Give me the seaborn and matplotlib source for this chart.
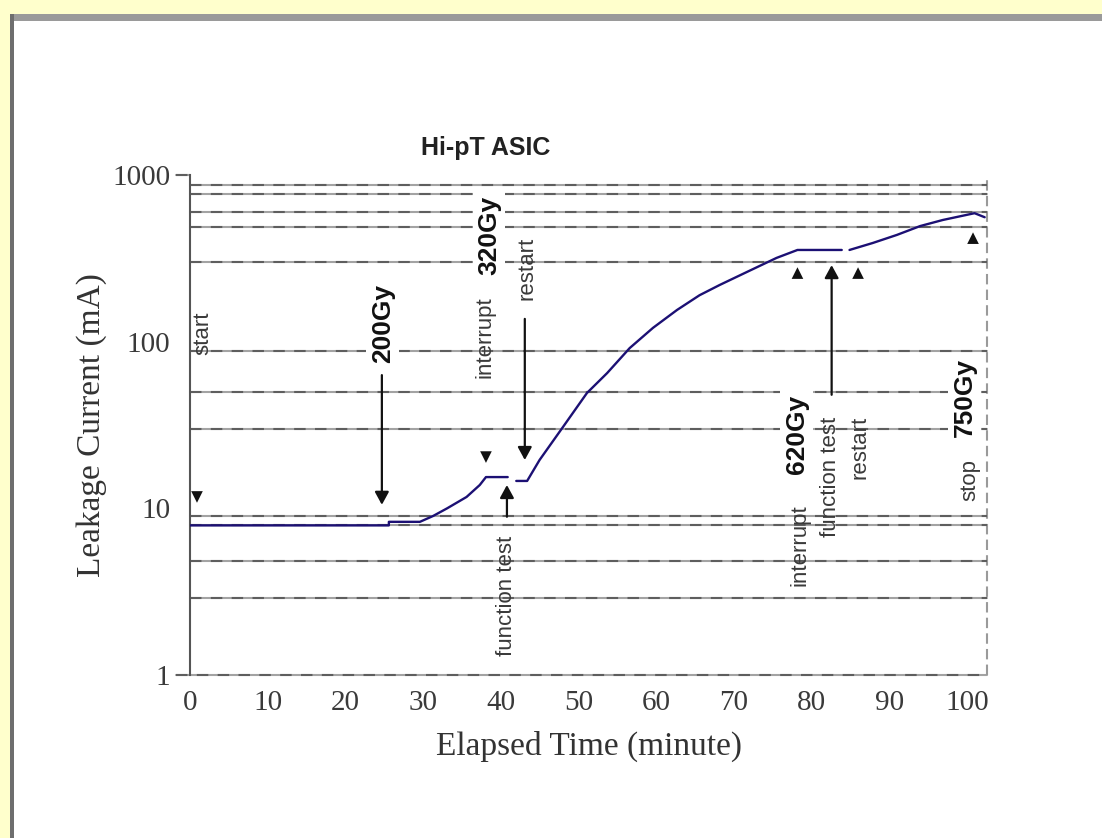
import numpy as np
import pandas as pd
import matplotlib
matplotlib.use("Agg")
import matplotlib.pyplot as plt
from matplotlib.patches import Rectangle
import seaborn as sns

# ---------------- data ----------------
time_min = [0, 25.6, 25.6, 29.6, 31.3, 33.1, 35.6, 37.3, 38.1, 40.9,
            42.0, 43.4, 45.0, 48.0, 51.1, 53.7, 56.6, 59.6, 62.7, 65.6,
            68.2, 71.7, 75.5, 78.2, 83.9,
            84.9, 87.9, 91.0, 94.0, 96.9, 101.0, 102.3]
current_mA = [7.9, 7.9, 8.3, 8.3, 9.0, 10.0, 11.7, 13.8, 15.4, 15.4,
              14.6, 14.6, 19.5, 30.7, 49.2, 64.8, 91.5, 121, 155, 190,
              219, 262, 318, 355, 355,
              355, 391, 437, 494, 537, 590, 558]
segment = [1] * 10 + [2] * 15 + [3] * 7

marker_time = [0.9, 38.1, 78.2, 86.0, 100.8]
marker_current = [11.7, 20.3, 258, 258, 418]
marker_shape = ["down", "down", "up", "up", "up"]

grid_levels = [870, 770, 600, 490, 300, 88, 50, 30, 9.0, 7.9, 4.8, 2.9]

x_ticks = [0, 10, 20, 30, 40, 50, 60, 70, 80, 90, 100]
x_marks = [30, 50, 70, 80, 90]
y_ticks = [1, 10, 100, 1000]
y_tick_labels = ["1", "10", "100", "1000"]

# annotation texts: (text, time, current, bold)
annotations = [
    ("start", 1.7, 113, False),
    ("200Gy", 24.8, 129, True),
    ("interrupt", 38.0, 107, False),
    ("320Gy", 38.5, 436, True),
    ("restart", 43.4, 276, False),
    ("function test", 40.8, 2.98, False),
    ("interrupt", 78.5, 6.0, False),
    ("620Gy", 78.1, 27.9, True),
    ("function test", 82.4, 15.4, False),
    ("restart", 86.2, 23.3, False),
    ("stop", 100.4, 14.8, False),
    ("750Gy", 99.7, 46.5, True),
]
# arrows: (time, from current, to current)
arrows = [
    (24.7, 63, 10.5),
    (43.1, 137, 19.5),
    (40.8, 8.9, 13.8),
    (82.6, 48, 288),
]

# ---------------- figure ----------------
sns.set_style("white")
plt.rcParams["font.family"] = ["Liberation Serif", "DejaVu Serif"]

W, H = 1102, 838
fig = plt.figure(figsize=(W / 100, H / 100), dpi=100, facecolor="#ffffcc")

# page frame: white panel with grey shadow edges
fig.patches.append(Rectangle((14 / W, 0), 1 - 14 / W, (H - 21) / H,
                             transform=fig.transFigure, facecolor="white",
                             edgecolor="none", zorder=-10))
fig.patches.append(Rectangle((10 / W, (H - 21) / H), 1 - 10 / W, 7 / H,
                             transform=fig.transFigure, facecolor="#9a9a9a",
                             edgecolor="none", zorder=-9))
fig.patches.append(Rectangle((10 / W, 0), 4 / W, (H - 14) / H,
                             transform=fig.transFigure, facecolor="#6e6e6e",
                             edgecolor="none", zorder=-9))

x0, x1 = 190, 987
y_top, y_bot = 175, 675
ax = fig.add_axes([x0 / W, (H - y_bot) / H, (x1 - x0) / W, (y_bot - y_top) / H])
ax.set_facecolor("none")

ax.set_yscale("log")
ax.set_xlim(0, 102.6)
ax.set_ylim(1, 1000)

# two-tone dashed grid lines
def twotone_h(y, xmin=0.0, xmax=1.0):
    ax.axhline(y, xmin=xmin, xmax=xmax, color="#a3a3a3", lw=1.5, zorder=1,
               clip_on=False)
    ax.axhline(y, xmin=xmin, xmax=xmax, color="#5e5e5e", lw=1.5, zorder=1.1,
               linestyle=(0, (5.5, 4.5)), clip_on=False)

for g in grid_levels:
    twotone_h(g)
# bottom axis line (dashed, extends slightly left of the y axis)
twotone_h(1, xmin=-14 / (x1 - x0), xmax=1.0)
# top tick at 1000
twotone_h(1000, xmin=-14 / (x1 - x0), xmax=0.0)

# right dashed boundary
ax.axvline(102.6, color="#9a9a9a", lw=1.5, linestyle=(0, (5, 2.5)), zorder=1,
           clip_on=False)

# data curve
df = pd.DataFrame({"time": time_min, "current": current_mA, "seg": segment})
sns.lineplot(data=df, x="time", y="current", units="seg", estimator=None,
             sort=False, color="#1c1074", lw=1.7, ax=ax, zorder=3)

# triangle markers
mk = pd.DataFrame({"time": marker_time, "current": marker_current,
                   "shape": marker_shape})
sns.scatterplot(data=mk, x="time", y="current", style="shape",
                markers={"down": "v", "up": "^"}, color="#111111", s=70,
                edgecolor="none", legend=False, ax=ax, zorder=4)

# arrows
for t, v0, v1 in arrows:
    ax.annotate("", xy=(t, v1), xytext=(t, v0),
                arrowprops=dict(arrowstyle="-|>,head_length=0.55,head_width=0.3",
                                color="#111111", lw=1.6, mutation_scale=14,
                                shrinkA=0, shrinkB=0),
                zorder=4)

# rotated annotation texts
for txt, t, v, bold in annotations:
    if bold:
        ax.text(t, v, txt, rotation=90, ha="center", va="center",
                fontsize=19, fontweight="bold", family="Liberation Sans",
                color="#111111", zorder=5,
                bbox=dict(facecolor="white", edgecolor="none", pad=3))
    else:
        ax.text(t, v, txt, rotation=90, ha="center", va="center",
                fontsize=16, family="Liberation Sans", color="#3a3a3a",
                zorder=5)

# spines
for s in ["top", "right", "bottom"]:
    ax.spines[s].set_visible(False)
ax.spines["left"].set_color("#555555")
ax.spines["left"].set_linewidth(1.5)
ax.spines["left"].set_zorder(2)

# ticks
ax.set_xticks(x_ticks)
ax.set_xticklabels([str(v) for v in x_ticks])
ax.set_xticks(x_marks, minor=True)
ax.tick_params(axis="x", which="major", length=0, pad=11, labelsize=21,
               labelcolor="#3a3a3a")
ax.tick_params(axis="x", which="minor", length=9, width=1.3, color="#888888",
               direction="out")
ax.set_yticks(y_ticks)
ax.set_yticklabels(y_tick_labels)
ax.yaxis.set_minor_locator(matplotlib.ticker.NullLocator())
ax.tick_params(axis="y", which="major", length=0, pad=14, labelsize=21,
               labelcolor="#3a3a3a")
ax.grid(False)

ax.set_xlabel("Elapsed Time (minute)", fontsize=24, color="#333333")
ax.set_ylabel("Leakage Current (mA)", fontsize=24, color="#333333")
ax.xaxis.set_label_coords(0.5, (y_bot - 731) / (y_bot - y_top))
ax.yaxis.set_label_coords((107 - x0) / (x1 - x0), 0.5)

fig.text(486 / W, 1 - 148 / H, "Hi-pT ASIC", ha="center", va="center",
         fontsize=18, fontweight="bold", family="Liberation Sans",
         color="#222222")

fig.savefig("out.png", dpi=100, facecolor=fig.get_facecolor())
